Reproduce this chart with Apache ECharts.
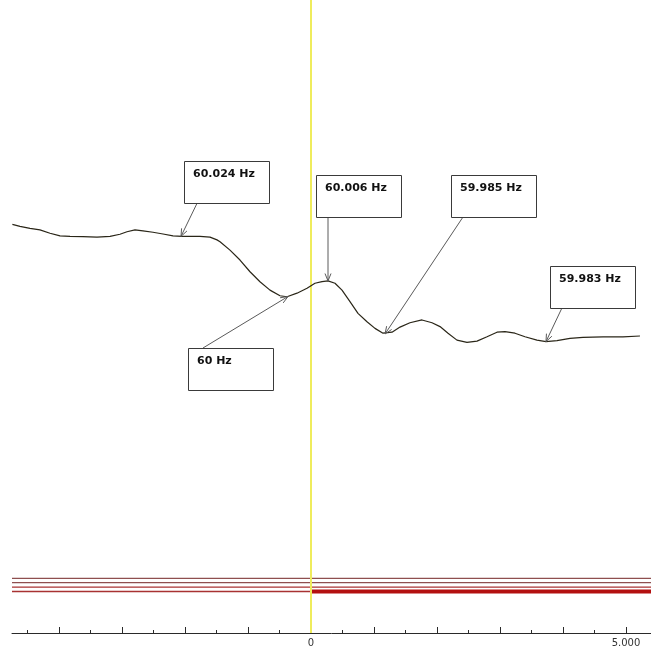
<!DOCTYPE html>
<html><head><meta charset="utf-8">
<script src="https://cdn.jsdelivr.net/npm/echarts@6/dist/echarts.min.js"></script>
<style>html,body{margin:0;padding:0;background:#fff}#c{width:651px;height:652px}</style>
</head><body><div id="c"></div>
<script>
// ---- data (time in s relative to event, frequency in Hz) ----
const timeSec = [-4.74,-4.619,-4.46,-4.302,-4.143,-3.984,-3.825,-3.619,-3.397,-3.19,-3.032,-2.921,-2.794,-2.667,-2.508,-2.349,-2.19,-2.048,-1.762,-1.603,-1.492,-1.444,-1.286,-1.127,-0.968,-0.81,-0.651,-0.492,-0.381,-0.222,-0.063,0.063,0.175,0.27,0.381,0.492,0.619,0.746,0.889,1.016,1.143,1.286,1.413,1.571,1.762,1.921,2.048,2.175,2.317,2.476,2.635,2.794,2.952,3.079,3.238,3.397,3.587,3.73,3.905,4.111,4.317,4.635,4.952,5.222];
const freqHz = [60.0283,60.0275,60.0267,60.0261,60.0248,60.0238,60.0236,60.0235,60.0233,60.0236,60.0244,60.0254,60.0261,60.0257,60.0252,60.0245,60.0238,60.0236,60.0236,60.0233,60.0222,60.0215,60.0182,60.0143,60.0097,60.0058,60.0025,60.0003,59.9999,60.0013,60.0032,60.0052,60.0058,60.0061,60.0052,60.0025,59.998,59.9934,59.9901,59.9875,59.9856,59.986,59.988,59.9897,59.9908,59.9897,59.9882,59.9856,59.9829,59.982,59.9825,59.9842,59.986,59.9862,59.9856,59.9842,59.9829,59.9823,59.9827,59.9836,59.984,59.9842,59.9842,59.9845];
const majorTicks = [-4,-3,-2,-1,0,1,2,3,4,5];
const minorTicks = [-4.5,-3.5,-2.5,-1.5,-0.5,0.5,1.5,2.5,3.5,4.5];
const labelTicks = [0,5];
const labelTexts = ['0','5.000'];
const eventTime = 0;
const statusChannels = [4,3,2,1];
const tripChannel = 1;
const annotationText = ['60.024 Hz','60 Hz','60.006 Hz','59.985 Hz','59.983 Hz'];
const annotationTime = [-2.063,-0.365,0.27,1.175,3.73];
const annotationFreq = [60.0236,60.0,60.0061,59.9853,59.9823];

// ---- layout ----
const xMin = -4.746, xMax = 5.397;
const yMin = 59.86804, yMax = 60.11627;
const chMin = -8.43, chMax = 135.4;
const boxOff = [[3,-75],[-100,51.5],[-12,-106],[66,-159],[4,-75.7]];
const arrowOff = [[16,-33],[-85,51.5],[0,-64],[78,-117],[16,-33.7]];
const BOX_W = 85, BOX_H = 42;
const GRID = {left:12, right:0, top:0, bottom:19, containLabel:false};

const chart = echarts.init(document.getElementById('c'), null, {renderer:'canvas'});
const series = [];
statusChannels.forEach((ch, i) => {
  series.push({
    type:'line', xAxisIndex:0, yAxisIndex:1, showSymbol:false, silent:true, z:2,
    data:[[xMin,ch],[xMax,ch]],
    lineStyle:{color: i < 2 ? '#8e4f4f' : '#a83232', width:1.3}
  });
});
series.push({
  type:'line', xAxisIndex:0, yAxisIndex:1, showSymbol:false, silent:true, z:2,
  data:[[eventTime,tripChannel],[xMax,tripChannel]],
  lineStyle:{color:'#b31010', width:3.8}
});
series.push({
  type:'line', xAxisIndex:0, yAxisIndex:0, showSymbol:false, silent:true, z:4,
  data: timeSec.map((t,i)=>[t,freqHz[i]]),
  lineStyle:{color:'#2a2618', width:1.2},
  markLine:{silent:true, symbol:['none','none'], label:{show:false}, z:3,
    lineStyle:{color:'#efec5c', width:2, type:'solid'},
    data:[{xAxis:eventTime}]}
});

chart.setOption({
  animation:false,
  backgroundColor:'#ffffff',
  grid:[Object.assign({}, GRID), Object.assign({}, GRID)],
  xAxis:[{
    gridIndex:0, type:'value', min:xMin, max:xMax, position:'bottom',
    splitLine:{show:false},
    axisLine:{show:true, onZero:false, lineStyle:{color:'#2a2a2a', width:1}},
    axisTick:{show:true, inside:true, length:6, customValues:majorTicks, lineStyle:{color:'#2a2a2a'}},
    axisLabel:{show:true, customValues:labelTicks, margin:5, color:'#333', fontSize:10, fontFamily:'DejaVu Sans',
      formatter:v=>{const k=labelTicks.indexOf(v); return k>=0?labelTexts[k]:'';}}
  },{
    gridIndex:1, type:'value', min:xMin, max:xMax, position:'bottom',
    splitLine:{show:false}, axisLine:{show:false, onZero:false}, axisLabel:{show:false},
    axisTick:{show:true, inside:true, length:3, customValues:minorTicks, lineStyle:{color:'#2a2a2a'}}
  }],
  yAxis:[{gridIndex:0, type:'value', min:yMin, max:yMax, show:false, splitLine:{show:false}},
         {gridIndex:0, type:'value', min:chMin, max:chMax, show:false, splitLine:{show:false}},
         {gridIndex:1, type:'value', min:0, max:1, show:false, splitLine:{show:false}}],
  series: series
});

// annotations
const graphics = [];
annotationText.forEach((txt,i)=>{
  const tip = chart.convertToPixel({xAxisIndex:0, yAxisIndex:0}, [annotationTime[i], annotationFreq[i]]);
  const bx = tip[0]+boxOff[i][0], by = tip[1]+boxOff[i][1];
  const sx = tip[0]+arrowOff[i][0], sy = tip[1]+arrowOff[i][1];
  graphics.push({type:'rect', z:10, shape:{x:Math.round(bx)+0.5, y:Math.round(by)+0.5, width:BOX_W, height:BOX_H},
    style:{fill:'#ffffff', stroke:'#3a3a3a', lineWidth:1}});
  graphics.push({type:'text', z:11, x:Math.round(bx)+9, y:Math.round(by)+13,
    style:{text:txt, fill:'#111', font:'bold 11px "DejaVu Sans"', verticalAlign:'middle'}});
  graphics.push({type:'line', z:9, shape:{x1:sx, y1:sy, x2:tip[0], y2:tip[1]},
    style:{stroke:'#5a5a5a', lineWidth:1}});
  const dx = tip[0]-sx, dy = tip[1]-sy, L = Math.hypot(dx,dy);
  const ux = dx/L, uy = dy/L, a = 22*Math.PI/180, h = 8;
  const r = (c,s)=>[ux*c - uy*s, ux*s + uy*c];
  const v1 = r(Math.cos(a), Math.sin(a)), v2 = r(Math.cos(a), -Math.sin(a));
  graphics.push({type:'polyline', z:9, shape:{points:[[tip[0]-h*v1[0], tip[1]-h*v1[1]],[tip[0],tip[1]],[tip[0]-h*v2[0], tip[1]-h*v2[1]]]},
    style:{stroke:'#5a5a5a', lineWidth:1, fill:null}});
});
chart.setOption({graphic: graphics});
</script>
</body></html>
